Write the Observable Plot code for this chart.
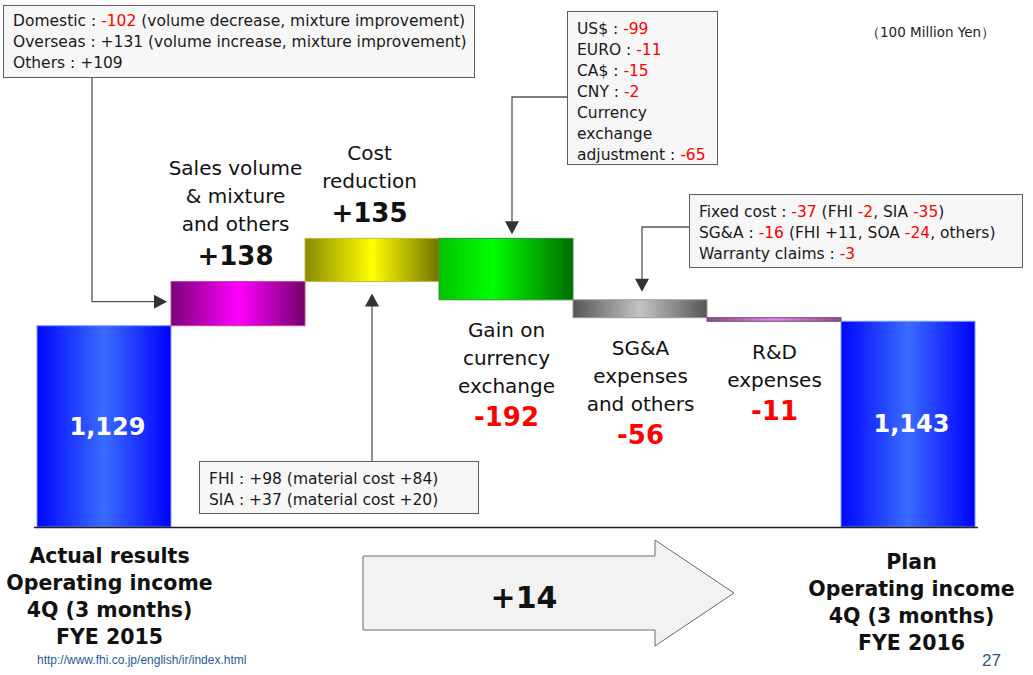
<!DOCTYPE html>
<html><head><meta charset="utf-8">
<script src="https://cdn.jsdelivr.net/npm/d3@7"></script>
<script src="https://cdn.jsdelivr.net/npm/@observablehq/plot@0.6"></script>
<style>
body{margin:0;background:#fff;}
#wrap{position:relative;width:1033px;height:675px;overflow:hidden;font-family:"DejaVu Sans",sans-serif;}
#wrap > svg{position:absolute;left:0;top:0;}
.box{position:absolute;background:#f7f7f7;border:1px solid #5e5e5e;font-size:15.5px;line-height:21px;color:#1a1a1a;box-sizing:border-box;white-space:nowrap;padding:6px 0 0 9px;}
.neg{color:#ff0000;}
.note{position:absolute;white-space:nowrap;}
g[aria-label="total-values"] text{letter-spacing:4px;}
</style></head>
<body><div id="wrap"></div>
<script>
// ---- data ----
const steps = ["actual", "sales", "cost", "fx", "sga", "rd", "plan"];
const stepLabels = ["", "Sales volume\n& mixture\nand others", "Cost\nreduction", "Gain on\ncurrency\nexchange", "SG&A\nexpenses\nand others", "R&D\nexpenses", ""];
const stepValues = [1129, 138, 135, -192, -56, -11, 1143];
const stepTypes = ["total", "delta", "delta", "delta", "delta", "delta", "total"];
const totalCaptions = ["Actual results\nOperating income\n4Q (3 months)\nFYE 2015", "Plan\nOperating income\n4Q (3 months)\nFYE 2016"];
const axisBase = 500;
const unitLabel = "（100 Million Yen）";
const salesNotes = ["Domestic : -102 (volume decrease, mixture improvement)", "Overseas : +131 (volume increase, mixture improvement)", "Others : +109"];
const fxNotes = ["US$ : -99", "EURO : -11", "CA$ : -15", "CNY : -2", "Currency", "exchange", "adjustment : -65"];
const sgaNotes = ["Fixed cost : -37 (FHI -2, SIA -35)", "SG&A : -16 (FHI +11, SOA -24, others)", "Warranty claims : -3"];
const costNotes = ["FHI : +98 (material cost +84)", "SIA : +37 (material cost +20)"];
const sourceUrl = "http://www.fhi.co.jp/english/ir/index.html";
const pageNumber = "27";

// ---- styles ----
const gradStops = {
  actual: [[0, "#0006ff"], [0.5, "#3a6cff"], [1, "#0000ff"]],
  plan: [[0, "#0006ff"], [0.5, "#3a6cff"], [1, "#0000ff"]],
  sales: [[0, "#7a0078"], [0.5, "#ff00ff"], [1, "#72006a"]],
  cost: [[0, "#8a8a00"], [0.5, "#ffff00"], [1, "#727200"]],
  fx: [[0, "#00c400"], [0.4, "#00ff00"], [1, "#006c00"]],
  sga: [[0, "#555555"], [0.5, "#c4c4c4"], [1, "#555555"]],
  rd: [[0, "#8a4f8a"], [0.5, "#d596e6"], [1, "#8a4f8a"]]
};
const edgeColors = {actual: "#7f9bff", plan: "#7f9bff", sales: "#c8409e", cost: "#bcbc40", fx: "#2f8f3f", sga: "#9a9a9a", rd: "#7a3a7a"};

// ---- build rows ----
let running = 0;
const rows = steps.map((s, i) => {
  const v = stepValues[i];
  let y1, y2;
  if (stepTypes[i] === "total") { y1 = axisBase; y2 = v; running = v; }
  else { y1 = running; y2 = running + v; running = y2; }
  return {step: s, label: stepLabels[i], value: v, type: stepTypes[i], y1, y2, lines: stepLabels[i].split("\n").length};
});
const totals = rows.filter(d => d.type === "total");
const pos = rows.filter(d => d.type === "delta" && d.value > 0);
const neg = rows.filter(d => d.type === "delta" && d.value < 0);

const labelFont = 20, valueFont = 26;
const negMarks = neg.flatMap(d => [
  Plot.text([d], {x: "step", y: "y2", text: "label", fontSize: labelFont, lineHeight: 28 / labelFont, lineAnchor: "bottom", dy: 37 + 28 * (d.lines - 1), fill: "#111"}),
  Plot.text([d], {x: "step", y: "y2", text: e => String(e.value), fontSize: valueFont, fontWeight: "bold", lineAnchor: "bottom", dy: 37 + 28 * (d.lines - 1) + 33, fill: "#ff0000"})
]);
const captionMarks = totals.map((d, i) => Plot.text([d], {
  x: "step", y: () => axisBase, text: () => totalCaptions[i], fontSize: 20.5, fontWeight: "bold",
  lineHeight: 27 / 20.5, lineAnchor: "bottom", dy: i === 0 ? 116 : 122, dx: i === 0 ? 5 : 3, fill: "#111"
}));

const chart = Plot.plot({
  width: 1033, height: 675,
  marginLeft: 34, marginRight: 55, marginTop: 0, marginBottom: 0,
  x: {domain: steps, padding: 0, axis: null},
  y: {domain: [axisBase, 1500], range: [527, 207], axis: null},
  color: {type: "identity"},
  style: {fontFamily: "DejaVu Sans", fontSize: "10px", background: "transparent", overflow: "visible"},
  marks: [
    Plot.barY(rows, {x: "step", y1: "y1", y2: "y2", fill: d => `url(#grad-${d.step})`, stroke: d => edgeColors[d.step], strokeWidth: 1}),
    Plot.ruleY([axisBase], {stroke: "#222", strokeWidth: 1.5}),
    Plot.text(totals, {x: "step", y: d => (axisBase + d.value) / 2, text: d => d3.format(",")(d.value), fill: "white", fontSize: 24, fontWeight: "bold", lineAnchor: "middle", ariaLabel: "total-values", dx: 3}),
    Plot.text(pos, {x: "step", y: "y2", text: d => "+" + d.value, fontSize: valueFont, fontWeight: "bold", lineAnchor: "bottom", dy: -17, dx: -3, fill: "#111"}),
    Plot.text(pos, {x: "step", y: "y2", text: "label", fontSize: labelFont, lineHeight: 28 / labelFont, lineAnchor: "bottom", dy: -51, dx: -3, fill: "#111"}),
    ...negMarks,
    ...captionMarks
  ]
});

const wrap = document.getElementById("wrap");
wrap.appendChild(chart);

const svg = d3.select(chart);
const defs = svg.insert("defs", ":first-child");
for (const [k, stops] of Object.entries(gradStops)) {
  const g = defs.append("linearGradient").attr("id", `grad-${k}`).attr("x1", 0).attr("x2", 1).attr("y1", 0).attr("y2", 0);
  for (const [o, c] of stops) g.append("stop").attr("offset", o).attr("stop-color", c);
}

// ---- connectors ----
const xs = chart.scale("x"), ys = chart.scale("y");
const row = k => rows.find(d => d.step === k);
const deco = svg.append("g");
const lineStyle = sel => sel.attr("fill", "none").attr("stroke", "#555").attr("stroke-width", 1.3);
function head(tx, ty, dir) {
  const L = 13, W = 7;
  let pts;
  if (dir === "right") pts = [[tx, ty], [tx - L, ty - W], [tx - L, ty + W]];
  if (dir === "down") pts = [[tx, ty], [tx - W, ty - L], [tx + W, ty - L]];
  if (dir === "up") pts = [[tx, ty], [tx - W, ty + L], [tx + W, ty + L]];
  deco.append("polygon").attr("points", pts.map(p => p.join(",")).join(" ")).attr("fill", "#333");
}
{
  const s = row("sales");
  const ty = ys.apply((s.y1 + s.y2) / 2) - 2, tx = xs.apply("sales") - 4;
  deco.append("path").attr("d", `M92,78V${ty}H${tx - 10}`).call(lineStyle);
  head(tx, ty, "right");
}
{
  const f = row("fx");
  const ty = ys.apply(f.y1) - 4;
  deco.append("path").attr("d", `M567,97H512V${ty - 10}`).call(lineStyle);
  head(512, ty, "down");
}
{
  const g = row("sga");
  const ty = ys.apply(g.y1) - 8;
  deco.append("path").attr("d", `M689,227H642V${ty - 10}`).call(lineStyle);
  head(642, ty, "down");
}
{
  const c = row("cost");
  const ty = ys.apply(c.y1) + 12;
  deco.append("path").attr("d", `M372,461V${ty + 10}`).call(lineStyle);
  head(372, ty, "up");
}
deco.append("polygon")
  .attr("points", "363,556 655,556 655,540 734,593 655,646 655,630 363,630")
  .attr("fill", "#f2f2f2").attr("stroke", "#6a6a6a").attr("stroke-width", 1);
const diff = stepValues[stepValues.length - 1] - stepValues[0];
deco.append("text").attr("x", 524).attr("y", 608).attr("text-anchor", "middle")
  .attr("font-size", 30).attr("font-weight", "bold").attr("fill", "#111").text((diff >= 0 ? "+" : "") + diff);

// ---- HTML boxes ----
function box(lines, left, top, w, h, padTop) {
  const div = document.createElement("div");
  div.className = "box";
  Object.assign(div.style, {left: left + "px", top: top + "px", width: w + "px", height: h + "px", paddingTop: padTop + "px"});
  lines.forEach(ln => {
    const lineDiv = document.createElement("div");
    ln.split(/(-\d+)/).forEach(part => {
      if (!part) return;
      if (/^-\d+$/.test(part)) { const sp = document.createElement("span"); sp.className = "neg"; sp.textContent = part; lineDiv.appendChild(sp); }
      else lineDiv.appendChild(document.createTextNode(part));
    });
    div.appendChild(lineDiv);
  });
  wrap.appendChild(div);
}
box(salesNotes, 3, 5, 472, 73, 5);
box(fxNotes, 567, 11, 151, 154, 7);
box(sgaNotes, 689, 194, 334, 74, 7);
box(costNotes, 199, 461, 280, 53, 7);

function note(text, left, top, css) {
  const d = document.createElement("div");
  d.className = "note";
  d.textContent = text;
  Object.assign(d.style, {left: left + "px", top: top + "px"}, css);
  wrap.appendChild(d);
}
note(unitLabel, 866, 24, {fontSize: "13.5px", color: "#222"});
note(sourceUrl, 37, 653, {fontSize: "12px", color: "#1f5a9a", fontFamily: "Liberation Sans, Arial, sans-serif"});
note(pageNumber, 982, 651, {fontSize: "17px", color: "#2a5b8a", fontFamily: "Liberation Sans, Arial, sans-serif"});
</script>
</body></html>
